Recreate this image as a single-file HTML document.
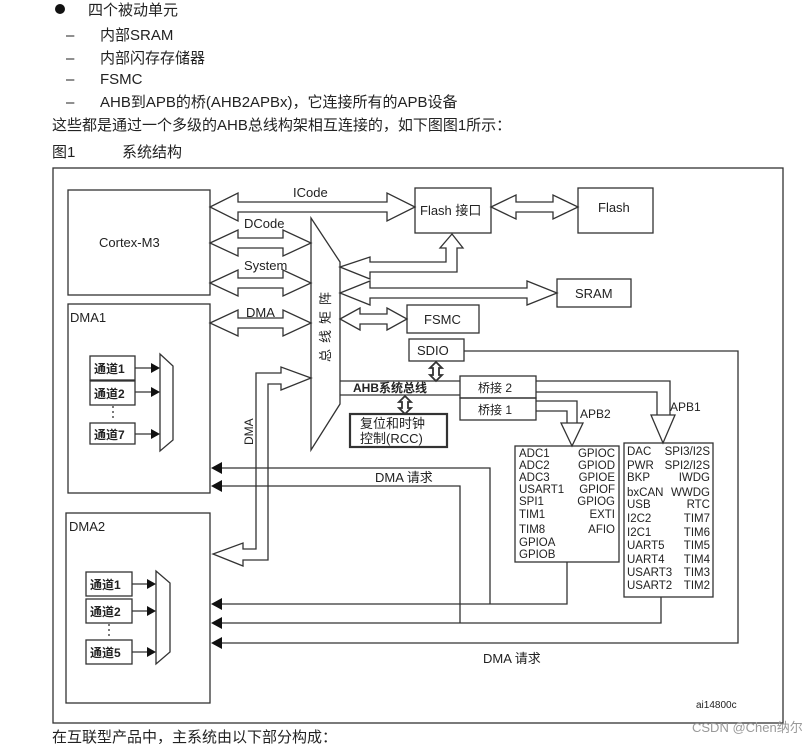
<!DOCTYPE html>
<html><head><meta charset="utf-8"><style>
body{margin:0;background:#fff;width:806px;height:747px;overflow:hidden}
svg{display:block}
text{font-family:"Liberation Sans","Noto Sans CJK SC",sans-serif;fill:#222}
</style></head><body>
<svg width="806" height="747" viewBox="0 0 806 747" xmlns="http://www.w3.org/2000/svg">
<g font-size="15">
<circle cx="60" cy="9" r="5" fill="#111"/>
<text x="88" y="15">四个被动单元</text>
<text x="66" y="40">–</text><text x="100" y="40">内部SRAM</text>
<text x="66" y="63">–</text><text x="100" y="63">内部闪存存储器</text>
<text x="66" y="84">–</text><text x="100" y="84">FSMC</text>
<text x="66" y="107">–</text><text x="100" y="107">AHB到APB的桥(AHB2APBx)，它连接所有的APB设备</text>
<text x="52" y="130">这些都是通过一个多级的AHB总线构架相互连接的，如下图图1所示：</text>
<text x="52" y="157">图1</text><text x="122" y="157">系统结构</text>
<text x="52" y="742">在互联型产品中，主系统由以下部分构成：</text>
</g>
<g fill="none" stroke="#333" stroke-width="1.3">
<rect x="53" y="168" width="730" height="555"/>
<rect x="68" y="190" width="142" height="105"/>
<rect x="68" y="304" width="142" height="189"/>
<rect x="66" y="513" width="144" height="190"/>
<polygon points="311,218 340,262 340,404 311,450" fill="#fff"/>
<rect x="415" y="188" width="76" height="45"/>
<rect x="578" y="188" width="75" height="45"/>
<rect x="557" y="279" width="74" height="28"/>
<rect x="407" y="305" width="72" height="28"/>
<rect x="409" y="339" width="55" height="22"/>
<rect x="460" y="376" width="76" height="22"/>
<rect x="460" y="398" width="76" height="22"/>
<rect x="350" y="414" width="97" height="33" stroke-width="2.2"/>
<rect x="515" y="446" width="104" height="116"/>
<rect x="624" y="443" width="89" height="154"/>
<path d="M340,381 H460 M340,395 H460"/>
<polygon points="210,207 238,193 238,202 387,202 387,193 415,207 387,221 387,212 238,212 238,221"/>
<polygon points="210,243 238,230 238,238 283,238 283,230 311,243 283,256 283,248 238,248 238,256"/>
<polygon points="210,283 238,270 238,278 283,278 283,270 311,283 283,296 283,288 238,288 238,296"/>
<polygon points="210,323 238,310 238,318 283,318 283,310 311,323 283,336 283,328 238,328 238,336"/>
<polygon points="491,207 516,195 516,202 553,202 553,195 578,207 553,219 553,212 516,212 516,219"/>
<polygon points="340,293 370,281 370,288 527,288 527,281 557,293 527,305 527,298 370,298 370,305"/>
<polygon points="340,319 360,308 360,314 387,314 387,308 407,319 387,330 387,324 360,324 360,330"/>
<polygon points="340,267 370,257 370,262 446,262 446,248 440,248 452,234 463,248 457,248 457,272 370,272 370,279"/>
<polygon points="436,362 442,368 439,368 439,375 442,375 436,381 430,375 433,375 433,368 430,368" stroke-width="1.8"/>
<polygon points="405,396 411,402 408,402 408,408 411,408 405,414 399,408 402,408 402,402 399,402" stroke-width="1.8"/>
<path d="M536,401 H577 V423 M536,411 H567 V423"/>
<polygon points="561,423 583,423 572,446" fill="#fff"/>
<path d="M536,381 H670 V415 M536,392 H657 V415"/>
<polygon points="651,415 675,415 663,443" fill="#fff"/>
<polygon points="311,378 281,367 281,373 256,373 256,549 243,549 243,543 213,554 243,566 243,560 268,560 268,384 281,384 281,390" fill="#fff"/>
<path d="M464,351 H738 V643 H220 M567,562 V604 H220 M661,597 V623 H220 M220,468 H490 V604 M220,486 H460 V623"/>
<rect x="90" y="356" width="45" height="24"/>
<rect x="90" y="381" width="45" height="24"/>
<rect x="90" y="423" width="45" height="21"/>
<polygon points="160,354 173,366 173,440 160,451"/>
<path d="M135,368 H152 M135,392 H152 M135,434 H152"/>
<path d="M113,406 V421" stroke-dasharray="2,3"/>
<rect x="86" y="572" width="46" height="24"/>
<rect x="86" y="599" width="46" height="24"/>
<rect x="86" y="640" width="46" height="24"/>
<polygon points="156,571 170,583 170,652 156,664"/>
<path d="M132,584 H149 M132,611 H149 M132,652 H149"/>
<path d="M109,624 V639" stroke-dasharray="2,3"/>
</g>
<g fill="#111">
<polygon points="160,368 151,363 151,373"/><polygon points="160,392 151,387 151,397"/><polygon points="160,434 151,429 151,439"/>
<polygon points="156,584 147,579 147,589"/><polygon points="156,611 147,606 147,616"/><polygon points="156,652 147,647 147,657"/>
<polygon points="211,468 222,462 222,474"/><polygon points="211,486 222,480 222,492"/>
<polygon points="211,604 222,598 222,610"/><polygon points="211,623 222,617 222,629"/><polygon points="211,643 222,637 222,649"/>
</g>
<g font-size="13">
<text x="99" y="247">Cortex-M3</text>
<text x="70" y="322">DMA1</text>
<text x="69" y="531">DMA2</text>
<text x="293" y="197">ICode</text>
<text x="244" y="228">DCode</text>
<text x="244" y="270">System</text>
<text x="246" y="317">DMA</text>
<text x="420" y="215">Flash 接口</text>
<text x="598" y="212">Flash</text>
<text x="575" y="298">SRAM</text>
<text x="424" y="324">FSMC</text>
<text x="417" y="355">SDIO</text>
<text x="353" y="392" font-weight="bold" font-size="12">AHB系统总线</text>
<text x="478" y="392" font-size="12">桥接 2</text>
<text x="478" y="414" font-size="12">桥接 1</text>
<text x="360" y="428" font-size="13">复位和时钟</text>
<text x="360" y="443" font-size="13">控制(RCC)</text>
<text x="580" y="418" font-size="12">APB2</text>
<text x="670" y="411" font-size="12">APB1</text>
<text x="375" y="482">DMA 请求</text>
<text x="483" y="663">DMA 请求</text>
<text x="0" y="0" font-size="12" transform="translate(253,445) rotate(-90)">DMA</text>
<text x="0" y="0" font-size="13" letter-spacing="6" transform="translate(330,362) rotate(-90)">总线矩阵</text>
<g font-size="12" font-weight="bold">
<text x="94" y="373">通道1</text><text x="94" y="398">通道2</text><text x="94" y="439">通道7</text>
<text x="90" y="589">通道1</text><text x="90" y="616">通道2</text><text x="90" y="657">通道5</text>
</g>
<g font-size="11.5">
<text x="519" y="457">ADC1</text><text x="519" y="469">ADC2</text><text x="519" y="481">ADC3</text><text x="519" y="493">USART1</text><text x="519" y="505">SPI1</text><text x="519" y="518">TIM1</text><text x="519" y="533">TIM8</text><text x="519" y="546">GPIOA</text><text x="519" y="558">GPIOB</text>
<g text-anchor="end"><text x="615" y="457">GPIOC</text><text x="615" y="469">GPIOD</text><text x="615" y="481">GPIOE</text><text x="615" y="493">GPIOF</text><text x="615" y="505">GPIOG</text><text x="615" y="518">EXTI</text><text x="615" y="533">AFIO</text></g>
<text x="627" y="455">DAC</text><text x="627" y="469">PWR</text><text x="627" y="481">BKP</text><text x="627" y="496">bxCAN</text><text x="627" y="508">USB</text><text x="627" y="522">I2C2</text><text x="627" y="536">I2C1</text><text x="627" y="549">UART5</text><text x="627" y="563">UART4</text><text x="627" y="576">USART3</text><text x="627" y="589">USART2</text>
<g text-anchor="end"><text x="710" y="455">SPI3/I2S</text><text x="710" y="469">SPI2/I2S</text><text x="710" y="481">IWDG</text><text x="710" y="496">WWDG</text><text x="710" y="508">RTC</text><text x="710" y="522">TIM7</text><text x="710" y="536">TIM6</text><text x="710" y="549">TIM5</text><text x="710" y="563">TIM4</text><text x="710" y="576">TIM3</text><text x="710" y="589">TIM2</text></g>
</g>
<text x="696" y="708" font-size="10">ai14800c</text>
<text x="692" y="732" font-size="13" style="fill:#999">CSDN @Chen纳尔</text>
</g>
</svg>
</body></html>
